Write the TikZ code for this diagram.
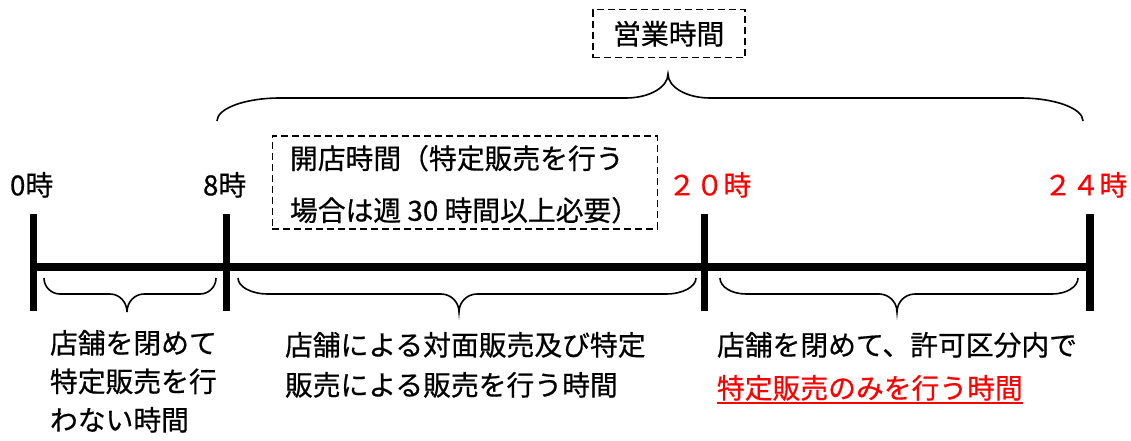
\documentclass[tikz,border=0pt]{standalone}
\usepackage{fontspec}
\setmainfont{Noto Sans CJK JP}[FakeBold=0.6]
\newcommand{\wbrace}[8]{% x1 x2 xt yend yhoriz ytip rend rtip
\draw[bracestyle] (#1,#4) .. controls (#1,{#4-0.552*(#4-#5)}) and ({#1+0.448*#7},#5) .. ({#1+#7},#5)
 -- ({#3-#8},#5) .. controls ({#3-0.448*#8},#5) and (#3,{#6-0.552*(#6-#5)}) .. (#3,#6)
 .. controls (#3,{#6-0.552*(#6-#5)}) and ({#3+0.448*#8},#5) .. ({#3+#8},#5)
 -- ({#2-#7},#5) .. controls ({#2-0.448*#7},#5) and (#2,{#4-0.552*(#4-#5)}) .. (#2,#4);}
\begin{document}
\begin{tikzpicture}[x=1pt,y=-1pt,
  txt/.style={inner sep=0pt,outer sep=0pt,anchor=north west,font=\fontsize{27.8}{39}\selectfont},
  redtxt/.style={txt,text=red},
  dbox/.style={draw,dash pattern=on 7pt off 4pt,line width=1.5pt,inner sep=0pt,anchor=north west},
  bracestyle/.style={line width=1.6pt},
  tickbar/.style={line width=7.5pt},
  axisline/.style={line width=8pt}]
\useasboundingbox (0,0) rectangle (1131,441);
% axis
\coordinate (t0) at (33.7,266.7);
\coordinate (t8) at (226.3,266.7);
\coordinate (t20) at (704.5,266.7);
\coordinate (t24) at (1090,266.7);
\draw[axisline] (t0) -- (t24);
\foreach \t in {t0,t8,t20,t24}{
  \draw[tickbar] ([yshift=52.7pt]\t) -- ([yshift=-44.3pt]\t);
}
% hour labels
\node[txt] (l0) at (10,172) {0時};
\node[txt] (l8) at (203,172) {8時};
\node[redtxt] (l20) at (668,172) {２０時};
\node[redtxt] (l24) at (1044,172) {２４時};
% boxes
\node[dbox,minimum width=385pt,minimum height=93pt] (kbox) at (271.5,135) {};
\node[txt] (k1) at (290,145) {開店時間（特定販売を行う};
\node[txt] (k2) at (290,197) {場合は週 30 時間以上必要）};
\node[dbox,minimum width=152pt,minimum height=48pt] (ebox) at (592,9) {};
\node[txt,anchor=center] (e1) at (ebox.center) {営業時間};
% braces
\wbrace{217}{1083}{668}{121}{98}{74}{63}{42}
\wbrace{44}{216}{127}{278}{294}{312}{16}{17}
\wbrace{238}{696}{459}{278}{294}{312}{30}{18}
\wbrace{720}{1078}{897}{278}{294}{312}{26}{18}
% bottom texts
\node[txt] (a1) at (50,330) {店舗を閉めて};
\node[txt] (a2) at (50,368.5) {特定販売を行};
\node[txt] (a3) at (50,407) {わない時間};
\node[txt] (b1) at (285,332) {店舗による対面販売及び特定};
\node[txt] (b2) at (285,372) {販売による販売を行う時間};
\node[txt] (c1) at (717,332) {店舗を閉めて、許可区分内で};
\node[redtxt] (c2) at (717,375) {特定販売のみを行う時間};
\draw[red,line width=2.5pt] ([yshift=-2.5pt]c2.south west) -- ([yshift=-2.5pt]c2.south east);
\end{tikzpicture}
\end{document}
